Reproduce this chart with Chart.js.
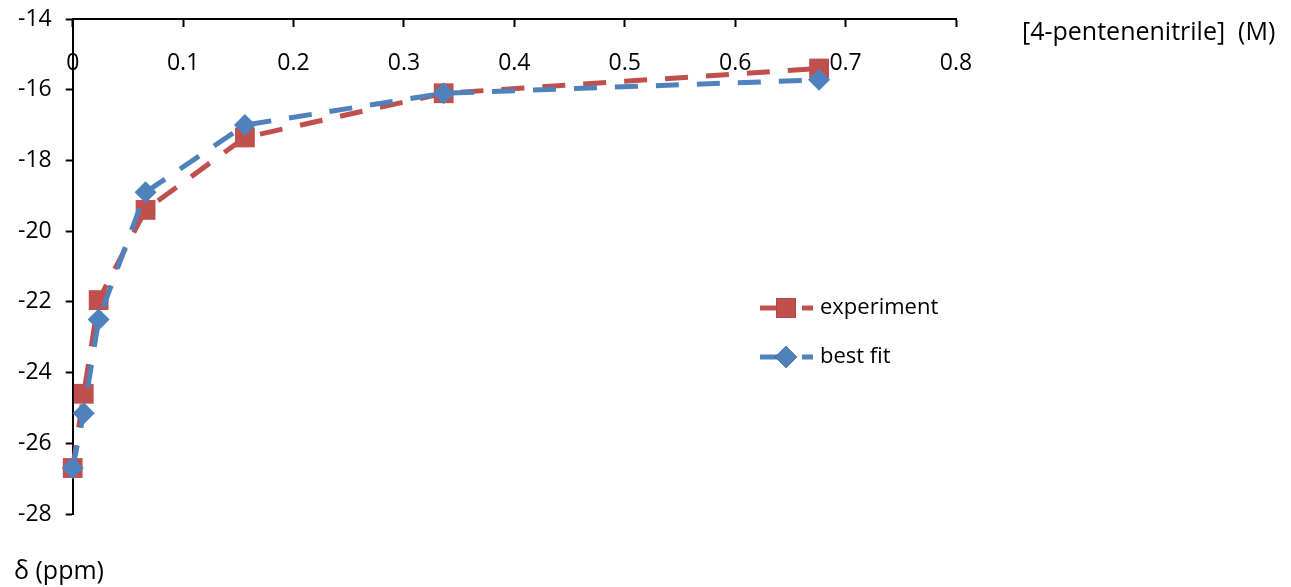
<!DOCTYPE html>
<html>
<head>
<meta charset="utf-8">
<script src="https://cdn.jsdelivr.net/npm/chart.js@4/dist/chart.umd.min.js"></script>
<style>
  html, body { margin: 0; padding: 0; background: #fff; }
  #wrap { width: 1291px; height: 587px; }
</style>
</head>
<body>
<div id="wrap"><canvas id="shiftChart"></canvas></div>
<script>
// Chemical shift vs nitrile concentration
const concentration = [0, 0.01, 0.0235, 0.066, 0.156, 0.336, 0.676];
const experiment = [-26.7, -24.6, -21.95, -19.4, -17.35, -16.1, -15.4];
const bestFit = [-26.7, -25.15, -22.5, -18.9, -17.0, -16.1, -15.72];
const xTicks = [0, 0.1, 0.2, 0.3, 0.4, 0.5, 0.6, 0.7, 0.8];
const yTicks = [-28, -26, -24, -22, -20, -18, -16, -14];
const seriesNames = ['experiment', 'best fit'];
const xTitle = '[4-pentenenitrile]  (M)';
const yTitle = 'δ (ppm)';

const FONT = 'Open Sans';
const RED = '#C0504D';
const BLUE = '#4F81BD';

function toPoints(ys) {
    return concentration.map((x, i) => ({ x: x, y: ys[i] }));
}

// axis titles + legend drawn inside the canvas
const extrasPlugin = {
    id: 'extras',
    afterDraw(chart) {
        const ctx = chart.ctx;
        const area = chart.chartArea;
        ctx.save();
        ctx.fillStyle = '#000';
        ctx.textBaseline = 'middle';
        ctx.textAlign = 'left';
        ctx.font = '25px "' + FONT + '"';
        ctx.fillText(xTitle, area.right + 66, area.top + 14);
        ctx.fillText(yTitle, 14, area.bottom + 58);

        // legend
        ctx.font = '22px "' + FONT + '"';
        const lx = area.right - 196;
        const rows = [area.top + 289, area.top + 338];
        chart.data.datasets.forEach((ds, i) => {
            const y = rows[i];
            ctx.strokeStyle = ds.borderColor;
            ctx.lineWidth = 5;
            ctx.setLineDash([30, 12]);
            ctx.beginPath();
            ctx.moveTo(lx, y);
            ctx.lineTo(lx + 53, y);
            ctx.stroke();
            ctx.setLineDash([]);
            Chart.helpers.drawPoint(ctx, {
                pointStyle: ds.pointStyle,
                radius: ds.pointRadius,
                borderWidth: 0,
                rotation: 0
            }, lx + 26, y);
            ctx.fillStyle = ds.backgroundColor;
            ctx.fill();
            ctx.fillStyle = '#000';
            ctx.fillText(seriesNames[i], lx + 60, y);
        });
        ctx.restore();
    }
};

const ctx = document.getElementById('shiftChart').getContext('2d');
new Chart(ctx, {
    type: 'line',
    data: {
        datasets: [
            {
                label: seriesNames[0],
                data: toPoints(experiment),
                borderColor: RED,
                backgroundColor: RED,
                pointBackgroundColor: RED,
                pointBorderWidth: 0,
                pointStyle: 'rect',
                pointRadius: 14,
                borderWidth: 5,
                borderDash: [23, 18],
                tension: 0,
                clip: false,
                order: 2
            },
            {
                label: seriesNames[1],
                data: toPoints(bestFit),
                borderColor: BLUE,
                backgroundColor: BLUE,
                pointBackgroundColor: BLUE,
                pointBorderWidth: 0,
                pointStyle: 'rectRot',
                pointRadius: 11,
                borderWidth: 5,
                borderDash: [23, 18],
                tension: 0,
                clip: false,
                order: 1
            }
        ]
    },
    options: {
        responsive: true,
        maintainAspectRatio: false,
        animation: false,
        events: [],
        layout: { padding: { top: 19, right: 335, bottom: 73, left: 4 } },
        plugins: {
            legend: { display: false },
            tooltip: { enabled: false }
        },
        scales: {
            x: {
                type: 'linear',
                position: { y: -14 },
                min: 0,
                max: 0.8,
                afterBuildTicks(scale) {
                    scale.ticks = xTicks.map(v => ({ value: v }));
                },
                ticks: {
                    color: '#000',
                    font: { family: FONT, size: 23 },
                    padding: 24,
                    maxRotation: 0,
                    autoSkip: false,
                    callback: v => String(v)
                },
                grid: {
                    drawOnChartArea: false,
                    drawTicks: true,
                    tickLength: 7,
                    tickWidth: 2,
                    tickColor: '#000'
                },
                border: { color: '#000', width: 2 }
            },
            y: {
                type: 'linear',
                position: 'left',
                min: -28,
                max: -14,
                afterBuildTicks(scale) {
                    scale.ticks = yTicks.map(v => ({ value: v }));
                },
                afterFit(scale) {
                    scale.paddingTop = 0;
                    scale.paddingBottom = 0;
                },
                ticks: {
                    color: '#000',
                    font: { family: FONT, size: 23 },
                    padding: 14,
                    callback: v => String(v)
                },
                grid: {
                    drawOnChartArea: false,
                    drawTicks: true,
                    tickLength: 7,
                    tickWidth: 2,
                    tickColor: '#000'
                },
                border: { color: '#000', width: 2 }
            }
        }
    },
    plugins: [extrasPlugin]
});
</script>
</body>
</html>
